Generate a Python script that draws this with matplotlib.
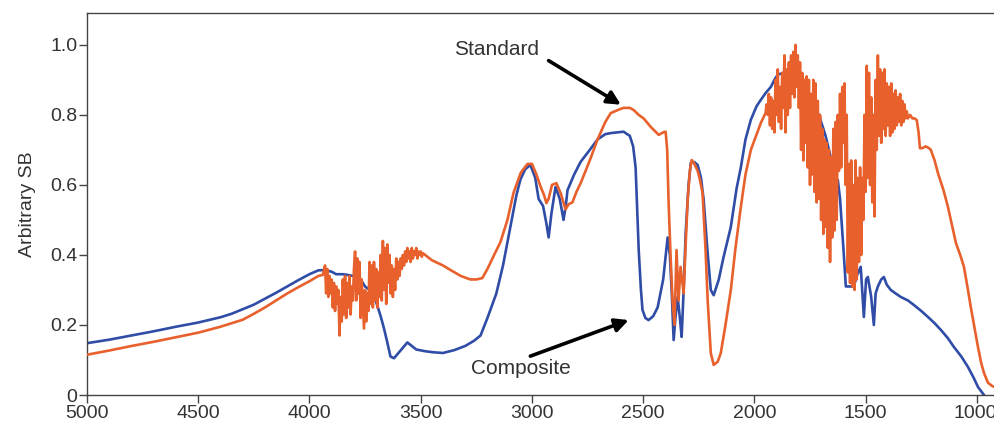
import matplotlib
matplotlib.use("Agg")
import matplotlib.pyplot as plt
from matplotlib.transforms import ScaledTranslation

# ---------------- data ----------------
comp_wn = [5000, 4900, 4800, 4700, 4600, 4500, 4400, 4350, 4300, 4250, 4200, 4150, 4100, 4050, 4000,
           3960, 3930, 3900, 3880, 3850, 3820, 3790, 3770, 3750, 3730, 3710, 3695, 3680, 3665, 3650,
           3636, 3620, 3600, 3580, 3560, 3540, 3520, 3480, 3443, 3400, 3350, 3300, 3260, 3231, 3200,
           3160, 3130, 3097, 3070, 3052, 3030, 3007, 2985, 2970, 2950, 2935, 2925, 2912, 2894, 2875,
           2858, 2848, 2840, 2810, 2781, 2740, 2705, 2670, 2646, 2588, 2560, 2545, 2534, 2527, 2520,
           2510, 2503, 2490, 2476, 2455, 2435, 2410, 2390, 2380, 2372, 2363, 2355, 2345, 2335, 2327,
           2318, 2309, 2296, 2286, 2270, 2255, 2240, 2228, 2212, 2196, 2183, 2160, 2140, 2120, 2106,
           2080, 2061, 2040, 2016, 1990, 1971, 1950, 1926, 1910, 1895, 1870, 1845, 1820, 1800, 1760,
           1710, 1680, 1650, 1635, 1625, 1615, 1600, 1589, 1575, 1553, 1540, 1522, 1508, 1498, 1490,
           1475, 1463, 1455, 1445, 1430, 1418, 1405, 1387, 1365, 1342, 1310, 1283, 1250, 1220, 1190,
           1162, 1130, 1103, 1070, 1040, 1015, 995, 968, 955]
comp_val = [0.148, 0.158, 0.170, 0.182, 0.195, 0.207, 0.222, 0.232, 0.245, 0.258, 0.275, 0.292, 0.310, 0.328, 0.345,
            0.356, 0.357, 0.352, 0.345, 0.345, 0.342, 0.338, 0.330, 0.310, 0.300, 0.285, 0.255, 0.225, 0.190, 0.150,
            0.110, 0.105, 0.120, 0.135, 0.150, 0.140, 0.130, 0.125, 0.122, 0.120, 0.128, 0.140, 0.155, 0.170, 0.220,
            0.290, 0.370, 0.480, 0.570, 0.615, 0.645, 0.657, 0.620, 0.560, 0.540, 0.490, 0.450, 0.520, 0.594, 0.560,
            0.500, 0.540, 0.585, 0.630, 0.666, 0.700, 0.730, 0.745, 0.748, 0.752, 0.740, 0.710, 0.650, 0.530, 0.414,
            0.300, 0.243, 0.220, 0.214, 0.225, 0.250, 0.330, 0.450, 0.400, 0.300, 0.157, 0.220, 0.280, 0.220, 0.166,
            0.300, 0.462, 0.600, 0.663, 0.665, 0.657, 0.620, 0.557, 0.420, 0.300, 0.285, 0.330, 0.390, 0.443, 0.480,
            0.590, 0.650, 0.730, 0.786, 0.825, 0.843, 0.862, 0.880, 0.900, 0.915, 0.920, 0.925, 0.895, 0.890, 0.850,
            0.800, 0.740, 0.660, 0.620, 0.614, 0.560, 0.420, 0.310, 0.310, 0.310, 0.340, 0.366, 0.223, 0.330, 0.337,
            0.280, 0.200, 0.290, 0.310, 0.330, 0.337, 0.315, 0.300, 0.290, 0.280, 0.270, 0.257, 0.240, 0.223, 0.205,
            0.186, 0.162, 0.137, 0.110, 0.080, 0.050, 0.023, 0.000, -0.010]

std_wn = [5000, 4900, 4800, 4700, 4600, 4500, 4400, 4350, 4300, 4250, 4200, 4150, 4100, 4050, 4000,
          3960, 3940,
          3930, 3925, 3920, 3915, 3910, 3905, 3900, 3895, 3890, 3885, 3880, 3875, 3870, 3865, 3860,
          3855, 3850, 3845, 3840, 3835, 3830, 3825, 3820, 3815, 3810, 3805, 3800, 3795, 3790, 3785,
          3780, 3775, 3770, 3765, 3760, 3755, 3750, 3745, 3740, 3735, 3730, 3725, 3720, 3715, 3710,
          3705, 3700, 3695, 3690, 3685, 3680, 3675, 3670, 3665, 3660, 3655, 3650, 3645, 3640, 3635,
          3630, 3625, 3620, 3615, 3610, 3605, 3600, 3595, 3590, 3585, 3580, 3575, 3570, 3565, 3560,
          3555, 3550, 3545, 3540, 3535, 3530, 3525, 3520, 3515, 3510, 3505, 3500, 3495, 3490, 3480,
          3450, 3400, 3366, 3320, 3277, 3250, 3223, 3200, 3170, 3142, 3110, 3083, 3050, 3020,
          3000, 2980, 2961, 2945, 2935, 2925, 2910, 2890, 2870, 2849, 2835, 2818, 2800, 2781, 2740,
          2705, 2670, 2646, 2610, 2588, 2560, 2543, 2520, 2498, 2465, 2430, 2410, 2399, 2392, 2386,
          2377, 2368, 2359, 2350, 2341, 2332, 2318, 2309, 2300, 2290, 2282, 2270, 2255, 2245, 2233,
          2220, 2210, 2196, 2183, 2165, 2151, 2130, 2106, 2085, 2061, 2040, 2016, 1990, 1971,
          1950, 1945, 1940, 1935, 1930, 1925, 1920, 1915, 1910, 1905, 1900, 1895, 1890, 1885, 1880,
          1875, 1870, 1865, 1860, 1855, 1850, 1845, 1840, 1835, 1830, 1825, 1820, 1815, 1810, 1805,
          1800, 1795, 1790, 1785, 1780, 1775, 1770, 1765, 1760, 1755, 1750, 1745, 1740, 1735, 1730,
          1725, 1720, 1715, 1710, 1705, 1700, 1695, 1690, 1685, 1680, 1675, 1670, 1665, 1660, 1655,
          1650, 1645, 1640, 1635, 1630, 1625, 1620, 1615, 1610, 1605, 1600, 1595, 1590, 1585, 1580,
          1575, 1570, 1565, 1560, 1555, 1550, 1545, 1540, 1535, 1530, 1525, 1520, 1515, 1510, 1505,
          1500, 1495, 1490, 1485, 1480, 1475, 1470, 1465, 1460, 1455, 1450, 1445, 1440, 1435, 1430,
          1425, 1420, 1415, 1410, 1405, 1400, 1395, 1390, 1385, 1380, 1375, 1370, 1365, 1360, 1355,
          1350, 1345, 1340, 1335, 1330, 1325, 1320, 1315, 1310, 1300, 1290, 1280, 1270,
          1262, 1256, 1245, 1230, 1215, 1207, 1190, 1175,
          1150, 1130, 1110, 1094, 1075, 1058, 1040, 1027, 1010, 995, 980, 968, 950, 930, 915]
std_val = [0.115, 0.127, 0.140, 0.152, 0.165, 0.178, 0.195, 0.205, 0.215, 0.232, 0.250, 0.270, 0.290, 0.308, 0.325,
           0.340, 0.343,
           0.370, 0.290, 0.360, 0.280, 0.340, 0.290, 0.330, 0.250, 0.320, 0.240, 0.310, 0.260, 0.300, 0.170, 0.280,
           0.210, 0.330, 0.230, 0.340, 0.220, 0.320, 0.250, 0.340, 0.230, 0.310, 0.270, 0.360, 0.410, 0.270, 0.390,
           0.290, 0.380, 0.220, 0.330, 0.260, 0.190, 0.300, 0.210, 0.290, 0.240, 0.380, 0.260, 0.370, 0.250, 0.380,
           0.270, 0.360, 0.250, 0.350, 0.280, 0.400, 0.270, 0.440, 0.300, 0.420, 0.260, 0.430, 0.320, 0.400, 0.290,
           0.370, 0.280, 0.360, 0.300, 0.390, 0.330, 0.380, 0.340, 0.390, 0.360, 0.400, 0.370, 0.410, 0.380, 0.420,
           0.390, 0.410, 0.380, 0.420, 0.390, 0.410, 0.400, 0.420, 0.390, 0.410, 0.400, 0.410, 0.395, 0.405, 0.400,
           0.385, 0.370, 0.357, 0.340, 0.330, 0.330, 0.334, 0.360, 0.400, 0.436, 0.500, 0.577, 0.635, 0.660,
           0.660, 0.630, 0.595, 0.570, 0.548, 0.560, 0.600, 0.605, 0.575, 0.530, 0.545, 0.550, 0.580, 0.605, 0.670,
           0.730, 0.780, 0.805, 0.815, 0.820, 0.820, 0.814, 0.800, 0.790, 0.765, 0.743, 0.750, 0.752, 0.700, 0.557,
           0.400, 0.270, 0.200, 0.414, 0.270, 0.366, 0.290, 0.430, 0.557, 0.640, 0.671, 0.660, 0.640, 0.615, 0.577,
           0.420, 0.270, 0.120, 0.086, 0.095, 0.120, 0.200, 0.300, 0.420, 0.537, 0.630, 0.700, 0.745, 0.777,
           0.805, 0.830, 0.800, 0.860, 0.770, 0.850, 0.760, 0.840, 0.750, 0.900, 0.800, 0.930, 0.780, 0.880, 0.760,
           0.920, 0.820, 0.970, 0.750, 0.930, 0.800, 0.950, 0.820, 0.970, 0.860, 0.980, 0.850, 1.000, 0.880, 0.970,
           0.820, 0.950, 0.700, 0.920, 0.670, 0.900, 0.720, 0.910, 0.650, 0.900, 0.600, 0.860, 0.630, 0.900, 0.580,
           0.890, 0.550, 0.840, 0.560, 0.800, 0.500, 0.760, 0.460, 0.730, 0.480, 0.720, 0.420, 0.700, 0.380, 0.680,
           0.450, 0.760, 0.470, 0.780, 0.500, 0.800, 0.640, 0.860, 0.650, 0.880, 0.720, 0.890, 0.600, 0.800, 0.350,
           0.660, 0.320, 0.670, 0.310, 0.600, 0.300, 0.670, 0.330, 0.620, 0.380, 0.650, 0.400, 0.620, 0.500, 0.800,
           0.580, 0.940, 0.620, 0.920, 0.600, 0.850, 0.550, 0.800, 0.510, 0.900, 0.700, 0.970, 0.740, 0.930, 0.720,
           0.920, 0.760, 0.930, 0.740, 0.890, 0.770, 0.880, 0.740, 0.890, 0.750, 0.860, 0.760, 0.870, 0.770, 0.850,
           0.780, 0.860, 0.770, 0.840, 0.780, 0.830, 0.790, 0.810, 0.790, 0.800, 0.790, 0.790, 0.785,
           0.750, 0.705, 0.705, 0.710, 0.705, 0.700, 0.670, 0.634,
           0.585, 0.537, 0.480, 0.434, 0.400, 0.366, 0.300, 0.250, 0.190, 0.137, 0.090, 0.063, 0.035, 0.025, 0.023]

x_ticks = [5000, 4500, 4000, 3500, 3000, 2500, 2000, 1500, 1000]
y_ticks = [0, 0.2, 0.4, 0.6, 0.8, 1.0]
y_tick_labels = ["0", "0.2", "0.4", "0.6", "0.8", "1.0"]

# ---------------- plot ----------------
plt.rcParams['font.family'] = ['Liberation Sans', 'DejaVu Sans']
TXT = '#333333'
BLUE = '#2F4CA6'
ORANGE = '#E8602C'

fig = plt.figure(figsize=(9.95, 4.23), dpi=100)
ax = fig.add_axes([87/995, 1 - 395/423, 1 - 87/995 + 0.001, (395 - 13)/423])

ax.plot(comp_wn, comp_val, color=BLUE, lw=1.9, zorder=2, solid_joinstyle='round')
ax.plot(std_wn, std_val, color=ORANGE, lw=1.9, zorder=3, solid_joinstyle='round')

ax.set_xlim(5000, 914)
ax.set_ylim(0, 1.091)
ax.set_xticks(x_ticks)
ax.set_xticklabels([str(t) for t in x_ticks])
ax.set_yticks(y_ticks)
ax.set_yticklabels(y_tick_labels)
ax.tick_params(direction='out', length=6, width=1, colors='#444444',
               labelcolor=TXT, labelsize=14, pad=1)
ax.set_ylabel("Arbitrary SB", fontsize=14, color=TXT, labelpad=10)

# nudge the last x tick label so it stays inside the figure
last = ax.get_xticklabels()[-1]
last.set_transform(last.get_transform() + ScaledTranslation(-2/100, 0, fig.dpi_scale_trans))

for s in ['left', 'bottom', 'top']:
    ax.spines[s].set_color('#444444')
    ax.spines[s].set_linewidth(1.0)
ax.spines['right'].set_visible(False)

arrow = dict(arrowstyle='-|>,head_length=0.8,head_width=0.4',
             lw=2.6, color='black', shrinkA=0, shrinkB=0)
ax.text(3160, 0.986, "Standard", fontsize=15, color=TXT, ha='center', va='center')
ax.annotate("", xy=(2600, 0.829), xytext=(2925, 0.955), arrowprops=arrow)
ax.text(3051, 0.077, "Composite", fontsize=15, color=TXT, ha='center', va='center')
ax.annotate("", xy=(2565, 0.214), xytext=(3007, 0.111), arrowprops=arrow)

fig.savefig("out.png", dpi=100)
